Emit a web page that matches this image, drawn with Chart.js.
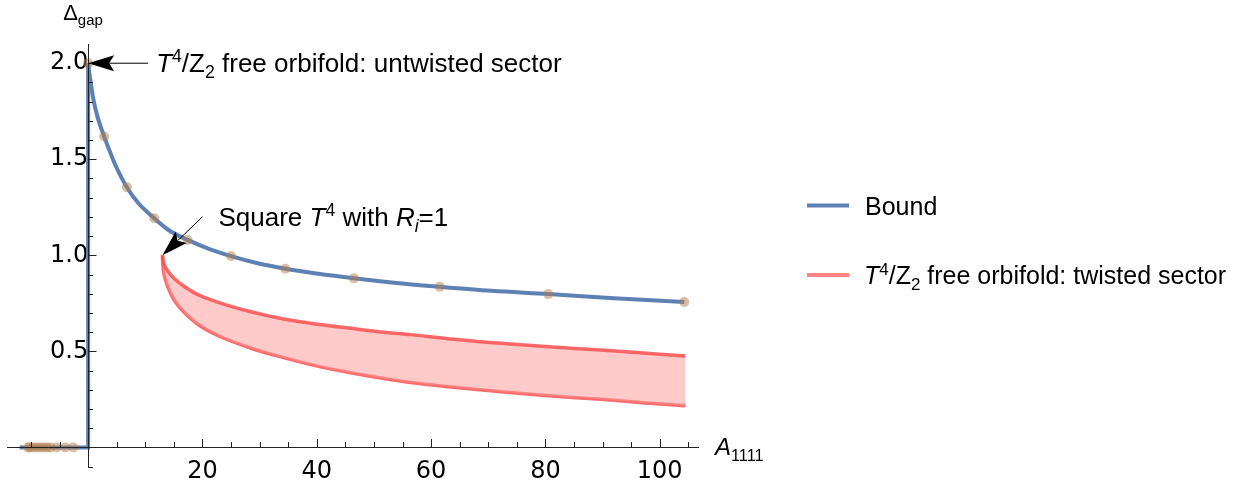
<!DOCTYPE html>
<html>
<head>
<meta charset="utf-8">
<script src="https://cdn.jsdelivr.net/npm/chart.js"></script>
<style>
    html, body { margin: 0; padding: 0; background: #fff; }
    #wrap { width: 1256px; height: 489px; }
</style>
</head>
<body>
<div id="wrap"><canvas id="gapChart" width="1256" height="489"></canvas></div>
<script>
// bound curve
const boundX = [0, 0.2, 0.47, 0.93, 1.63, 2.8, 4.15, 4.9, 6.77, 8.8, 11.56, 14, 17.39, 21, 25, 29.5, 34.5, 40, 46.5, 53.5, 61.5, 70.5, 80.5, 92, 104.3];
const boundY = [2.0, 1.95, 1.896, 1.809, 1.722, 1.618, 1.514, 1.461, 1.354, 1.271, 1.193, 1.133, 1.080, 1.035, 0.996, 0.960, 0.930, 0.905, 0.880, 0.857, 0.836, 0.815, 0.798, 0.776, 0.757];
// vertical/horizontal part of the bound
const stepX = [-12, 0, 0];
const stepY = [0, 0, 2.0];
// sample points on the bound
const sampleX = [-10.5, -10.2, -9.6, -9.0, -8.4, -7.8, -7.2, -6.6, -5.5, -4.0, -2.6, 0, 2.8, 6.77, 11.56, 17.39, 25, 34.5, 46.5, 61.5, 80.5, 104.3];
const sampleY = [0, 0, 0, 0, 0, 0, 0, 0, 0, 0, 0, 2.0, 1.618, 1.354, 1.193, 1.080, 0.996, 0.930, 0.880, 0.836, 0.798, 0.757];
// twisted sector band
const twistX = [13, 13.05, 13.2, 13.5, 14, 15, 16.7, 19, 22.5, 28.5, 34.2, 40.1, 45.9, 51.7, 56.4, 63, 72.2, 80, 89.7, 97, 104.5];
const twistUpper = [1.0, 0.981, 0.962, 0.94, 0.915, 0.88, 0.84, 0.798, 0.758, 0.706, 0.668, 0.641, 0.620, 0.600, 0.587, 0.566, 0.542, 0.525, 0.507, 0.492, 0.476];
const twistLower = [1.0, 0.96, 0.915, 0.875, 0.83, 0.77, 0.706, 0.645, 0.585, 0.516, 0.467, 0.423, 0.389, 0.359, 0.338, 0.316, 0.290, 0.270, 0.250, 0.233, 0.217];
// ticks
const xTickValues = [-10, -5, 5, 10, 15, 20, 25, 30, 35, 40, 45, 50, 55, 60, 65, 70, 75, 80, 85, 90, 95, 100, 105];
const xLabelValues = [20, 40, 60, 80, 100];
const yTickValues = [-0.1, 0.1, 0.2, 0.3, 0.4, 0.5, 0.6, 0.7, 0.8, 0.9, 1.0, 1.1, 1.2, 1.3, 1.4, 1.5, 1.6, 1.7, 1.8, 1.9, 2.0];
const yLabelValues = [0.5, 1.0, 1.5, 2.0];

const BLUE = '#5e81b5';
const RED = 'rgba(255, 80, 80, 0.85)';
const PINK = 'rgba(255, 150, 150, 0.5)';
const TEXT_FONT = '"Liberation Sans", Arial, sans-serif';

function toPoints(xs, ys) {
    return xs.map((x, i) => ({ x: x, y: ys[i] }));
}

// text with italic / sup / sub pieces
function drawRich(ctx, x, y, parts, size) {
    parts.forEach(p => {
        const s = (p.sup || p.sub) ? size * 0.68 : size;
        ctx.font = (p.it ? 'italic ' : '') + s + 'px ' + TEXT_FONT;
        const dy = p.sup ? -size * 0.38 : (p.sub ? size * 0.24 : 0);
        ctx.fillText(p.t, x, y + dy);
        x += ctx.measureText(p.t).width;
    });
}

function drawArrow(ctx, fx, fy, tx, ty) {
    const a = Math.atan2(ty - fy, tx - fx);
    const c = Math.cos(a), s = Math.sin(a);
    const L = 26, W = 8, N = 21;
    ctx.beginPath();
    ctx.moveTo(fx, fy);
    ctx.lineTo(tx - N * c, ty - N * s);
    ctx.stroke();
    ctx.beginPath();
    ctx.moveTo(tx, ty);
    ctx.lineTo(tx - L * c - W * s, ty - L * s + W * c);
    ctx.lineTo(tx - N * c, ty - N * s);
    ctx.lineTo(tx - L * c + W * s, ty - L * s - W * c);
    ctx.closePath();
    ctx.fill();
}

const decorations = {
    id: 'decorations',
    afterDraw(chart) {
        const ctx = chart.ctx;
        const xs = chart.scales.x, ys = chart.scales.y;
        const x0 = xs.getPixelForValue(0), y0 = ys.getPixelForValue(0);
        ctx.save();

        // inward tick marks
        ctx.strokeStyle = '#222';
        ctx.lineWidth = 1;
        ctx.beginPath();
        xTickValues.forEach(v => {
            const px = Math.round(xs.getPixelForValue(v)) + 0.5;
            const len = v % 20 === 0 ? 8 : 5;
            ctx.moveTo(px, Math.round(y0));
            ctx.lineTo(px, Math.round(y0) - len);
        });
        yTickValues.forEach(v => {
            const py = Math.round(ys.getPixelForValue(v)) + 0.5;
            const major = Math.abs(v * 2 - Math.round(v * 2)) < 1e-9;
            ctx.moveTo(Math.round(x0), py);
            ctx.lineTo(Math.round(x0) + (major ? 8.5 : 5), py);
        });
        ctx.stroke();

        ctx.fillStyle = '#000';
        ctx.textBaseline = 'alphabetic';
        ctx.textAlign = 'left';

        // axis labels
        drawRich(ctx, x0 - 25, 20, [{ t: 'Δ' }, { t: 'gap', sub: 1 }], 22);
        drawRich(ctx, xs.right + 17, 455, [{ t: 'A', it: 1 }, { t: '1111', sub: 1 }], 24);

        // annotations
        ctx.strokeStyle = '#000';
        const t1x = x0, t1y = ys.getPixelForValue(2.0);
        drawArrow(ctx, t1x + 60, t1y, t1x, t1y);
        drawRich(ctx, t1x + 68, t1y + 9, [
            { t: 'T', it: 1 }, { t: '4', sup: 1 }, { t: '/Z' }, { t: '2', sub: 1 },
            { t: ' free orbifold: untwisted sector' }
        ], 26);

        const t2x = xs.getPixelForValue(twistX[0]), t2y = ys.getPixelForValue(twistUpper[0]);
        drawArrow(ctx, t2x + 40, t2y - 38.5, t2x, t2y);
        drawRich(ctx, t2x + 56, t2y - 29.5, [
            { t: 'Square ' }, { t: 'T', it: 1 }, { t: '4', sup: 1 }, { t: ' with ' },
            { t: 'R', it: 1 }, { t: 'i', it: 1, sub: 1 }, { t: '=1' }
        ], 26);

        // legend
        ctx.lineWidth = 4;
        ctx.strokeStyle = BLUE;
        ctx.beginPath(); ctx.moveTo(807, 205.5); ctx.lineTo(849, 205.5); ctx.stroke();
        ctx.strokeStyle = '#ff8484';
        ctx.beginPath(); ctx.moveTo(807, 275); ctx.lineTo(849, 275); ctx.stroke();
        drawRich(ctx, 865, 214.5, [{ t: 'Bound' }], 25);
        drawRich(ctx, 864, 284, [
            { t: 'T', it: 1 }, { t: '4', sup: 1 }, { t: '/Z' }, { t: '2', sub: 1 },
            { t: ' free orbifold: twisted sector' }
        ], 25);

        ctx.restore();
    }
};

const ctx = document.getElementById('gapChart').getContext('2d');
const gapChart = new Chart(ctx, {
    type: 'line',
    data: {
        datasets: [
            {
                label: 'samples',
                data: toPoints(sampleX, sampleY),
                showLine: false,
                pointRadius: 5,
                pointBorderWidth: 0,
                pointBackgroundColor: 'rgba(175, 125, 75, 0.5)',
                order: 0
            },
            {
                label: 'Bound',
                data: toPoints(boundX, boundY),
                borderColor: BLUE,
                borderWidth: 4,
                pointRadius: 0,
                cubicInterpolationMode: 'monotone',
                order: 1
            },
            {
                label: 'Bound step',
                data: toPoints(stepX, stepY),
                borderColor: BLUE,
                borderWidth: 4,
                pointRadius: 0,
                tension: 0,
                order: 1
            },
            {
                label: 'twisted upper',
                data: toPoints(twistX, twistUpper),
                borderColor: RED,
                borderWidth: 3.5,
                pointRadius: 0,
                cubicInterpolationMode: 'monotone',
                fill: '+1',
                backgroundColor: PINK,
                order: 2
            },
            {
                label: 'twisted lower',
                data: toPoints(twistX, twistLower),
                borderColor: RED,
                borderWidth: 3.5,
                pointRadius: 0,
                cubicInterpolationMode: 'monotone',
                fill: false,
                order: 2
            }
        ]
    },
    options: {
        responsive: false,
        animation: false,
        layout: { padding: { left: 7, top: 44, right: 558, bottom: 22 } },
        plugins: {
            legend: { display: false },
            tooltip: { enabled: false }
        },
        scales: {
            x: {
                type: 'linear',
                min: -14.2,
                max: 106.7,
                position: { y: 0 },
                afterBuildTicks: s => { s.ticks = xTickValues.map(v => ({ value: v })); },
                afterFit: s => { s.height = 0; },
                grid: { drawOnChartArea: false, drawTicks: false },
                border: { color: '#222', width: 1, z: 1 },
                ticks: {
                    padding: 10,
                    maxRotation: 0,
                    autoSkip: false,
                    color: '#000',
                    font: { family: 'DejaVu Sans', size: 24 },
                    callback: v => xLabelValues.includes(v) ? String(v) : ''
                }
            },
            y: {
                type: 'linear',
                min: -0.1,
                max: 2.1,
                position: { x: 0 },
                afterBuildTicks: s => { s.ticks = yTickValues.map(v => ({ value: v })); },
                afterFit: s => { s.width = 0; },
                grid: { drawOnChartArea: false, drawTicks: false },
                border: { color: '#222', width: 1, z: 1 },
                ticks: {
                    padding: 8,
                    autoSkip: false,
                    color: '#000',
                    font: { family: 'DejaVu Sans', size: 24 },
                    callback: v => yLabelValues.some(t => Math.abs(t - v) < 1e-9) ? v.toFixed(1) : ''
                }
            }
        }
    },
    plugins: [decorations]
});
</script>
</body>
</html>
